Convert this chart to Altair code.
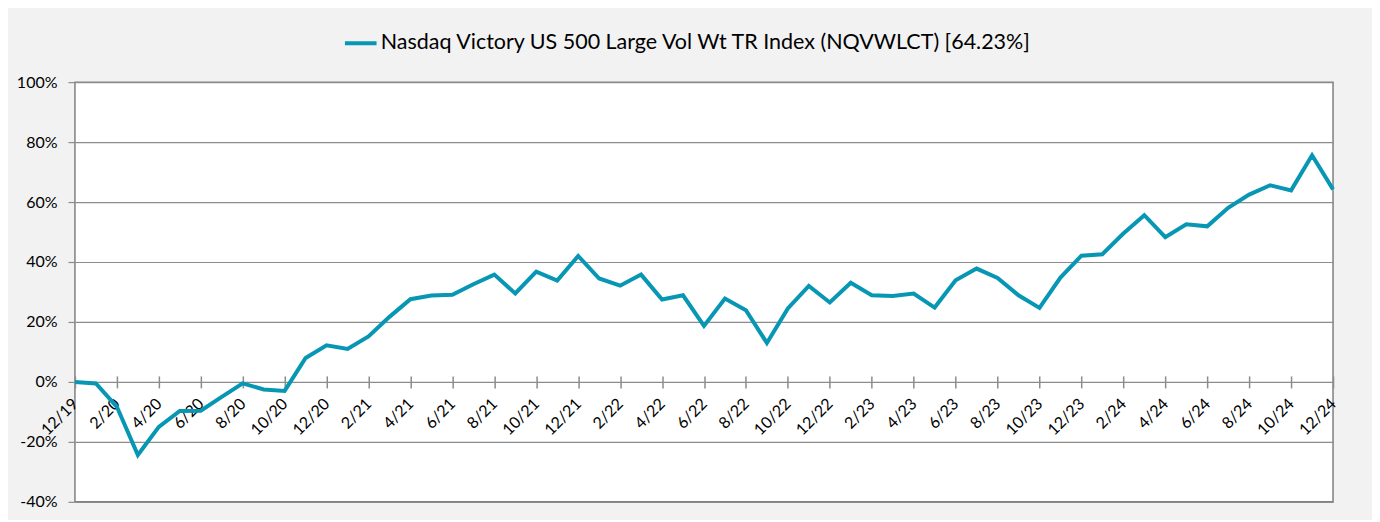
import altair as alt
import pandas as pd

months = [
    "12/19",
    "1/20", "2/20", "3/20", "4/20", "5/20", "6/20", "7/20", "8/20", "9/20", "10/20", "11/20", "12/20",
    "1/21", "2/21", "3/21", "4/21", "5/21", "6/21", "7/21", "8/21", "9/21", "10/21", "11/21", "12/21",
    "1/22", "2/22", "3/22", "4/22", "5/22", "6/22", "7/22", "8/22", "9/22", "10/22", "11/22", "12/22",
    "1/23", "2/23", "3/23", "4/23", "5/23", "6/23", "7/23", "8/23", "9/23", "10/23", "11/23", "12/23",
    "1/24", "2/24", "3/24", "4/24", "5/24", "6/24", "7/24", "8/24", "9/24", "10/24", "11/24", "12/24",
]

returns = [
    0.0,
    -0.5, -8.3, -24.4, -15.0, -9.7, -9.6, -5.0, -0.5, -2.5, -3.0, 8.0, 12.2,
    11.0, 15.2, 21.7, 27.6, 28.8, 29.1, 32.6, 35.8, 29.5, 36.8, 33.8, 42.0,
    34.5, 32.1, 35.8, 27.5, 28.9, 18.7, 27.8, 23.9, 13.0, 24.5, 32.0, 26.5,
    33.1, 28.9, 28.7, 29.5, 24.8, 33.9, 37.8, 34.7, 28.9, 24.7, 34.8, 42.1,
    42.6, 49.5, 55.6, 48.3, 52.6, 51.9, 58.1, 62.5, 65.6, 63.9, 75.6, 64.23,
]

series_name = "Nasdaq Victory US 500 Large Vol Wt TR Index (NQVWLCT) [64.23%]"
y_ticks = [-40, -20, 0, 20, 40, 60, 80, 100]
x_ticks = months[::2]

df = pd.DataFrame({"month": months, "ret": returns, "series": series_name})

FONT = "Lato"
LINE_COLOR = "#0796b3"
GRAY = "#8c8c8c"

chart = (
    alt.Chart(df)
    .mark_line(strokeWidth=4, strokeJoin="miter")
    .encode(
        x=alt.X(
            "month:N",
            sort=None,
            scale=alt.Scale(type="point", padding=0),
            axis=alt.Axis(
                title=None,
                values=x_ticks,
                domain=False,
                grid=False,
                offset=-126,
                tickSize=12,
                tickColor=GRAY,
                tickWidth=1.5,
                labelAngle=-45,
                labelAlign="right",
                labelBaseline="middle",
                labelPadding=13,
                labelFont=FONT,
                labelFontSize=16,
                labelColor="#000000",
                labelOverlap=False,
                labelFlush=False,
            ),
        ),
        y=alt.Y(
            "ret:Q",
            scale=alt.Scale(domain=[-40, 100], nice=False, zero=False),
            axis=alt.Axis(
                title=None,
                values=y_ticks,
                labelExpr="datum.value + '%'",
                grid=True,
                gridColor=GRAY,
                gridWidth=1.2,
                domain=False,
                tickSize=7,
                tickColor=GRAY,
                tickWidth=1.2,
                labelPadding=11,
                labelFont=FONT,
                labelFontSize=16,
                labelColor="#000000",
            ),
        ),
        color=alt.Color(
            "series:N",
            scale=alt.Scale(range=[LINE_COLOR]),
            legend=alt.Legend(
                title=None,
                orient="none",
                legendX=268,
                legendY=-57,
                symbolType="stroke",
                symbolSize=1000,
                symbolStrokeWidth=4,
                labelFont=FONT,
                labelFontSize=21.5,
                labelColor="#000000",
                labelOffset=2,
                labelLimit=1000,
            ),
        ),
    )
    .properties(
        width=1259,
        height=420,
        background="#f2f2f2",
        padding={"left": 67, "top": 74, "right": 39, "bottom": 18},
        autosize=alt.AutoSizeParams(type="none"),
    )
    .configure_view(fill="#ffffff", stroke="#808080", strokeWidth=1.5)
)

chart.save("out.html", embed_options={"renderer": "svg", "actions": False})
